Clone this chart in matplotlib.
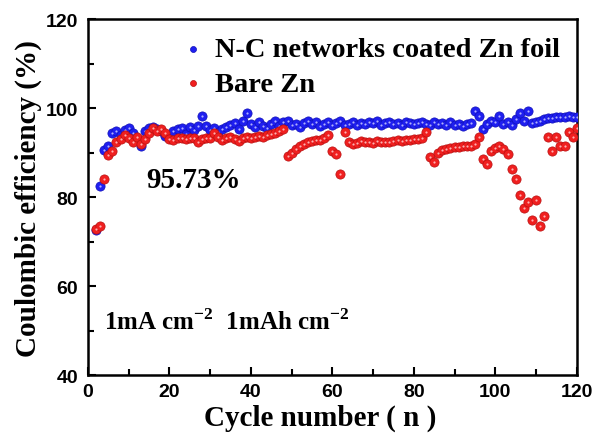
import numpy as np
import matplotlib
matplotlib.use('Agg')
import matplotlib.pyplot as plt
from matplotlib.ticker import MultipleLocator

plt.rcParams['mathtext.fontset'] = 'custom'
plt.rcParams['mathtext.rm'] = 'Liberation Serif:bold'
plt.rcParams['mathtext.bf'] = 'Liberation Serif:bold'

cycles = list(range(2, 121))

nc_zn = [72.5, 82.5, 90.5, 91.5, 94.5, 94.8, 94.0, 95.0, 95.5, 94.5,
         93.0, 91.5, 94.8, 95.5, 95.8, 95.2, 94.8, 93.8, 93.5, 94.8,
         95.2, 95.5, 94.2, 95.8, 95.0, 96.0, 98.2, 96.0, 95.0, 95.5,
         94.6, 95.2, 95.8, 96.2, 96.6, 95.2, 97.0, 99.0, 96.5, 95.8,
         96.8, 96.0, 95.5, 96.5, 97.2, 96.0, 96.8, 97.0, 96.2, 96.5,
         95.8, 96.6, 97.2, 96.4, 96.8, 96.0, 96.5, 96.8, 96.2, 96.6,
         97.0, 96.3, 96.5, 96.8, 96.2, 96.6, 96.4, 96.8, 96.6, 97.0,
         96.3, 96.6, 96.8, 96.4, 96.6, 96.2, 96.8, 96.6, 96.4, 96.7,
         96.9, 96.5, 96.2, 96.8, 96.4, 96.6, 96.3, 96.8, 96.2, 96.5,
         96.0, 96.4, 96.6, 99.3, 98.2, 95.3, 96.5, 97.2, 96.8, 98.2,
         96.4, 96.8, 96.3, 97.5, 99.0, 97.0, 99.3, 96.6, 96.8, 97.2,
         97.6, 97.8, 97.8, 98.0, 97.9, 98.1, 98.2, 98.0, 98.1]

bare_zn = [72.8, 73.5, 84.0, 89.5, 90.3, 92.5, 93.0, 94.0, 93.2, 92.3,
           93.6, 92.0, 93.0, 94.5, 95.5, 94.8, 95.2, 94.3, 93.0, 92.8,
           93.4, 93.2, 93.0, 93.4, 93.2, 92.4, 93.0, 93.4, 93.2, 94.5,
           93.5, 92.8, 93.2, 93.5, 93.0, 92.7, 93.2, 93.5, 93.3, 93.6,
           93.8, 93.5, 94.0, 94.2, 94.5, 94.8, 95.2, 89.2, 90.0, 90.8,
           91.4, 92.0, 92.4, 92.6, 92.8, 92.9, 93.4, 94.0, 90.3, 89.7,
           85.2, 94.6, 92.4, 92.0, 92.2, 92.6, 92.4, 92.5, 92.2, 92.6,
           92.5, 92.3, 92.5, 92.6, 92.8, 92.7, 92.8, 92.9, 93.0, 93.0,
           93.4, 94.6, 89.0, 88.0, 90.0, 90.5, 90.8, 91.0, 91.2, 91.3,
           91.4, 91.5, 91.6, 92.0, 93.5, 88.5, 87.4, 90.3, 91.0, 91.5,
           90.8, 89.7, 86.3, 84.0, 80.4, 77.5, 78.8, 74.8, 79.3, 73.5,
           75.7, 93.5, 90.3, 93.5, 91.5, 91.5, 94.6, 93.5, 95.5]

serif = 'Liberation Serif'
sans = 'Liberation Sans'

fig = plt.figure(figsize=(5.94, 4.39), dpi=100)
ax = fig.add_axes([0.148, 0.1435, 0.823, 0.8105])

ax.scatter(cycles, nc_zn, s=44, color='#1f1ff0', edgecolors='#1010b8',
           linewidths=0.5, zorder=3, label='N-C networks coated Zn foil')
ax.scatter(cycles, bare_zn, s=44, color='#f01f1f', edgecolors='#b81010',
           linewidths=0.5, zorder=4, label='Bare Zn')
# small highlight on each ball
ax.scatter(cycles, nc_zn, s=2.5, color='#b0b0ff', linewidths=0, zorder=3.5)
ax.scatter(cycles, bare_zn, s=2.5, color='#ffb0b0', linewidths=0, zorder=4.5)

ax.set_xlim(0, 120)
ax.set_ylim(40, 120)
ax.xaxis.set_major_locator(MultipleLocator(20))
ax.xaxis.set_minor_locator(MultipleLocator(10))
ax.yaxis.set_major_locator(MultipleLocator(20))
ax.yaxis.set_minor_locator(MultipleLocator(10))
ax.tick_params(which='both', direction='in', width=1.5)
ax.tick_params(which='major', length=6)
ax.tick_params(which='minor', length=4)
ax.tick_params(axis='x', pad=6)
ax.tick_params(axis='y', pad=7)
for s in ax.spines.values():
    s.set_linewidth(1.8)
for lab in ax.get_xticklabels() + ax.get_yticklabels():
    lab.set_fontfamily(sans)
    lab.set_fontweight('bold')
    lab.set_fontsize(14)

ax.set_xlabel('Cycle number ( n )', fontfamily=serif, fontweight='bold',
              fontsize=21)
ax.xaxis.label.set_va('center')
ax.xaxis.set_label_coords(0.475, -0.12)
ax.set_ylabel('Coulombic efficiency (%)', fontfamily=serif, fontweight='bold',
              fontsize=21, labelpad=3)

leg = ax.legend(loc='upper right', frameon=False, markerscale=0.65,
                handletextpad=0.0, borderaxespad=0.1, labelspacing=0.3,
                handlelength=1.5, borderpad=0.5,
                prop={'family': serif, 'weight': 'bold', 'size': 20.5})

ax.text(26, 84, '95.73%', fontfamily=serif, fontweight='bold', fontsize=21,
        ha='center', va='center')
ax.text(4, 52, r'1mA cm$^{-2}$  1mAh cm$^{-2}$',
        fontfamily=serif, fontweight='bold', fontsize=18, va='center')

fig.savefig('out.png', dpi=100)
